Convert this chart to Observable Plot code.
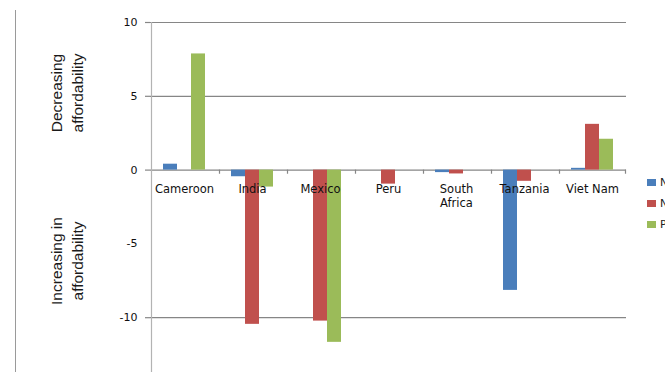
<!DOCTYPE html>
<html><head><meta charset="utf-8">
<script src="https://cdn.jsdelivr.net/npm/d3@7"></script>
<script src="https://cdn.jsdelivr.net/npm/@observablehq/plot@0.6"></script>
<style>
html,body{margin:0;padding:0;background:#fff;overflow:hidden;}
#wrap{position:relative;width:665px;height:372px;overflow:hidden;background:#fff;}
#wrap svg{position:absolute;left:0;top:0;}
.side{position:absolute;left:15px;top:10px;width:0;height:370px;border-left:1.5px solid #9a9a9a;}
.ytitle{position:absolute;font-family:"Liberation Sans",Arial,sans-serif;font-size:15.5px;line-height:21px;color:#1a1a1a;text-align:center;white-space:pre;transform:translate(-50%,-50%) rotate(-90deg);}
.leg{position:absolute;left:647px;font-family:"DejaVu Sans",sans-serif;font-size:11px;color:#222;white-space:nowrap;display:flex;align-items:center;}
.leg span.sw{display:inline-block;width:9px;height:7px;margin-right:4px;}
</style></head><body><div id="wrap"></div>
<script>
// Data
const countries = ["Cameroon", "India", "Mexico", "Peru", "South Africa", "Tanzania", "Viet Nam"];
const seriesKeys = ["series1", "series2", "series3"];
const legendLabels = ["N", "N", "P"]; // legend text is cut off at the right edge
const series1 = [0.4, -0.45, 0, 0, -0.17, -8.15, 0.12];
const series2 = [0, -10.45, -10.23, -0.95, -0.26, -0.76, 3.1];
const series3 = [7.87, -1.15, -11.67, 0, 0, 0, 2.09];
const seriesColors = ["#4a7ebb", "#c0504d", "#9bbb59"];
const gridValues = [10, 5, 0, -10];
const tickLabels = [10, 5, 0, -5, -10];
const yTitles = ["Decreasing\naffordability", "Increasing in\naffordability"];

const seriesValues = [series1, series2, series3];
const data = countries.flatMap((c, i) => seriesKeys.map((s, j) => ({country: c, series: s, value: seriesValues[j][i]})));

const chart = Plot.plot({
  width: 665,
  height: 400,
  marginLeft: 150,
  marginRight: 39,
  marginTop: 22,
  marginBottom: 9,
  style: {fontFamily: "'DejaVu Sans', sans-serif", background: "transparent"},
  fx: {domain: countries, padding: 0, axis: null, label: null},
  x: {domain: seriesKeys, paddingInner: 0, paddingOuter: 0.767, axis: null, label: null},
  y: {domain: [-15, 10], axis: null, label: null},
  color: {domain: seriesKeys, range: seriesColors},
  marks: [
    Plot.ruleY(gridValues, {stroke: "#868686", strokeWidth: 1.2}),
    Plot.ruleX([countries[0]], {fx: d => d, x: () => seriesKeys[0], dx: -19, y1: 10, y2: -15, stroke: "#b3b3b3", strokeWidth: 1.2}),
    Plot.ruleX(countries.slice(1), {fx: d => d, x: () => seriesKeys[0], dx: -19, y1: 0, y2: -0.28, stroke: "#868686", strokeWidth: 1.2}),
    Plot.ruleX([countries[countries.length - 1]], {fx: d => d, x: () => seriesKeys[2], dx: 19, y1: 0, y2: -0.28, stroke: "#868686", strokeWidth: 1.2}),
    Plot.barY(data, {fx: "country", x: "series", y: "value", fill: "series", inset: 0}),
    Plot.axisY(gridValues, {anchor: "left", tickSize: 5, text: null, label: null, stroke: "#868686", strokeWidth: 1.2}),
    Plot.axisY(tickLabels, {anchor: "left", tickSize: 0, tickPadding: 13, fontSize: 11, fill: "#111", label: null, tickFormat: d => String(d)}),
    Plot.text(countries, {fx: d => d, text: d => d, y: 0, dy: 13, lineAnchor: "top", lineWidth: 5, lineHeight: 1.2, fontSize: 11.5, fill: "#111"})
  ]
});

const wrap = document.getElementById("wrap");
wrap.appendChild(chart);

const side = document.createElement("div");
side.className = "side";
wrap.appendChild(side);

const titleCenters = [93, 261];
yTitles.forEach((t, i) => {
  const d = document.createElement("div");
  d.className = "ytitle";
  d.textContent = t;
  d.style.left = "67px";
  d.style.top = titleCenters[i] + "px";
  wrap.appendChild(d);
});

legendLabels.forEach((lab, i) => {
  const d = document.createElement("div");
  d.className = "leg";
  d.style.top = (176 + i * 21) + "px";
  const sw = document.createElement("span");
  sw.className = "sw";
  sw.style.background = seriesColors[i];
  d.appendChild(sw);
  d.appendChild(document.createTextNode(lab));
  wrap.appendChild(d);
});
</script>
</body></html>
